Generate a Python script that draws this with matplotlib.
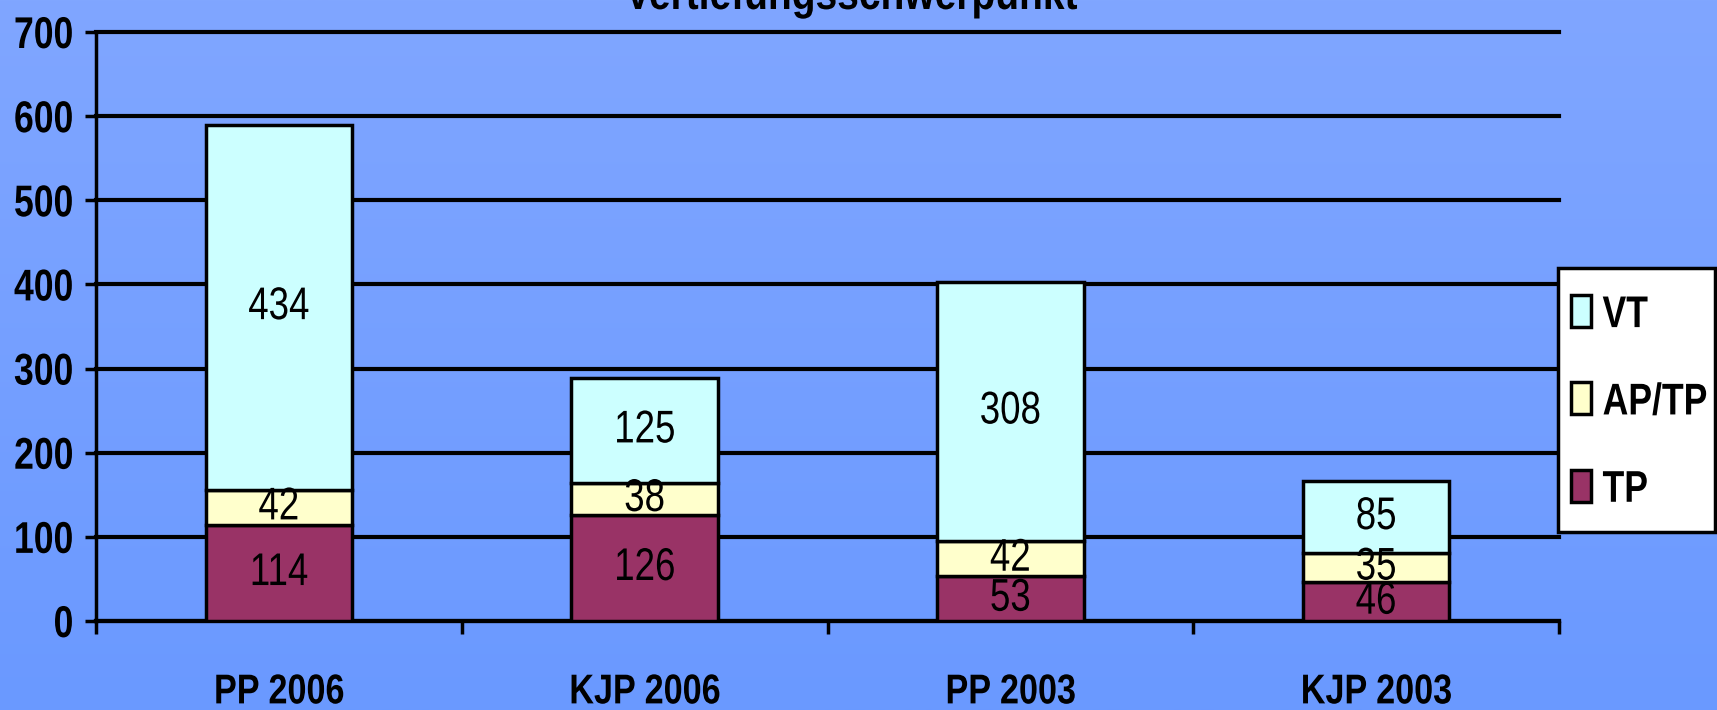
import numpy as np
import matplotlib
matplotlib.use("Agg")
import matplotlib.pyplot as plt
from matplotlib.patches import Patch, Rectangle
from matplotlib.legend_handler import HandlerPatch
from matplotlib import patheffects
from matplotlib.transforms import Affine2D

categories = ["PP 2006", "KJP 2006", "PP 2003", "KJP 2003"]
tp = [114, 126, 53, 46]
ap_tp = [42, 38, 42, 35]
vt = [434, 125, 308, 85]
yticks = [0, 100, 200, 300, 400, 500, 600, 700]
title = "Vertiefungsschwerpunkt"

COLORS = {"VT": "#CCFFFF", "AP/TP": "#FFFFCC", "TP": "#993366"}

plt.rcParams["font.family"] = ["Liberation Sans", "DejaVu Sans"]


# schmale schrift nachbilden (Arial Narrow gibt es hier nicht)
class Condense(patheffects.AbstractPathEffect):
    def __init__(self, sx=0.8, anchor="center"):
        super().__init__()
        self.sx = sx
        self.anchor = anchor

    def draw_path(self, renderer, gc, tpath, affine, rgbFace=None):
        ext = tpath.get_extents()
        if self.anchor == "center":
            cx = (ext.x0 + ext.x1) / 2
        elif self.anchor == "right":
            cx = ext.x1
        else:
            cx = ext.x0
        t = Affine2D().translate(-cx, 0).scale(self.sx, 1).translate(cx, 0) + affine
        renderer.draw_path(gc, tpath, t, rgbFace)


# kleines kaestchen auf hoehe der grossbuchstaben
def small_box(legend, orig_handle, xdescent, ydescent, width, height, fontsize):
    return Rectangle((-xdescent, 0), width, 0.72 * fontsize)


fig = plt.figure(figsize=(17.17, 7.10), dpi=100)

# hintergrund mit verlauf
bg = fig.add_axes([0, 0, 1, 1], zorder=-10)
grad = np.linspace(0, 1, 256).reshape(-1, 1)
top = np.array([128, 166, 255]) / 255
bot = np.array([106, 153, 255]) / 255
img = top[None, None, :] * (1 - grad[:, :, None]) + bot[None, None, :] * grad[:, :, None]
bg.imshow(img, aspect="auto", extent=[0, 1, 0, 1])
bg.axis("off")

ax = fig.add_axes([96 / 1717, 1 - 621 / 710, (1559 - 96) / 1717, (621 - 32) / 710])
ax.set_facecolor("none")

x = np.arange(len(categories))
w = 0.4
kw = dict(width=w, edgecolor="black", linewidth=2.5, zorder=3)
b1 = ax.bar(x, tp, color=COLORS["TP"], **kw)
b2 = ax.bar(x, ap_tp, bottom=tp, color=COLORS["AP/TP"], **kw)
bottom3 = np.array(tp) + np.array(ap_tp)
b3 = ax.bar(x, vt, bottom=bottom3, color=COLORS["VT"], **kw)

for vals, bots in [(tp, [0] * 4), (ap_tp, tp), (vt, bottom3)]:
    for i, v in enumerate(vals):
        t = ax.text(x[i], bots[i] + v / 2, str(v), ha="center", va="center",
                    fontsize=33, color="black", zorder=4)
        t.set_path_effects([Condense(0.8, "center")])

ax.set_xlim(-0.5, len(categories) - 0.5)
ax.set_ylim(0, 700)
ax.set_yticks(yticks)
ax.set_yticklabels([str(t) for t in yticks], fontsize=32, fontweight="bold")
for lab in ax.get_yticklabels():
    lab.set_path_effects([Condense(0.8, "right")])
ax.yaxis.grid(True, color="black", linewidth=3, zorder=0)
for gl in ax.get_ygridlines():
    gl.set_clip_on(False)
ax.set_axisbelow(True)

# x ticks an den kategoriegrenzen, beschriftung mittig
ax.set_xticks(np.arange(-0.5, len(categories)), minor=False)
ax.set_xticklabels([])
ax.set_xticks(x, minor=True)
ax.set_xticklabels(categories, minor=True, fontsize=30, fontweight="bold")
for lab in ax.get_xticklabels(minor=True):
    lab.set_path_effects([Condense(0.82, "center")])
ax.tick_params(axis="x", which="minor", length=0, pad=37)
ax.tick_params(axis="x", which="major", length=9, width=2.5, direction="out")
ax.tick_params(axis="y", length=8, width=2.5, pad=8)

for s in ["top", "right"]:
    ax.spines[s].set_visible(False)
ax.spines["left"].set_linewidth(2.5)
ax.spines["bottom"].set_linewidth(3)

ttl = fig.text(0.496, 1 - 9 / 710, title, ha="center", va="baseline",
               fontsize=33, fontweight="bold")
ttl.set_path_effects([Condense(0.85, "center")])

labels = ["VT", "AP/TP", "TP"]
handles = [Patch(facecolor=COLORS[k], edgecolor="black", linewidth=2.5) for k in labels]
lx0, lx1 = 1558 / 1717, 1715 / 1717
ly1 = 1 - 268 / 710
leg = fig.legend(handles, labels, loc="upper left", mode="expand",
                 bbox_to_anchor=(lx0, ly1 - 0.3, lx1 - lx0, 0.3), borderaxespad=0,
                 fancybox=False, framealpha=1, edgecolor="black",
                 prop={"size": 32, "weight": "bold"},
                 handler_map={Patch: HandlerPatch(patch_func=small_box)},
                 handlelength=0.45, handleheight=1.8, handletextpad=0.25,
                 labelspacing=0.55, borderpad=0.3)
leg.get_frame().set_linewidth(2.5)
for t in leg.get_texts():
    t.set_path_effects([Condense(0.8, "left")])

fig.savefig("out.png", dpi=100)
